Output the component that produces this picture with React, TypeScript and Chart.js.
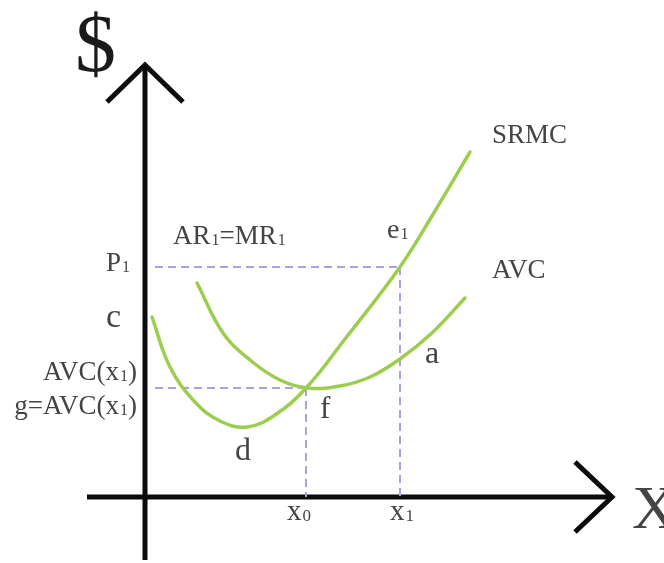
import { useEffect, useRef } from 'react';
import { Chart, registerables } from 'chart.js';

Chart.register(...registerables);

const W = 664;
const H = 563;

// Quantity (q) runs right, price (p) runs up; the axes cross at q = 0, p = 0.
const Q_MIN = -14.5;
const Q_MAX = 51.9;
const P_MIN = -6.6;
const P_MAX = 49.7;

// Short-run marginal cost curve
const srmcQ = [0.7, 2.5, 5.0, 7.5, 10.2, 13.0, 16.1, 20.0, 25.5, 29.0, 32.5];
const srmcP = [18.0, 13.0, 9.5, 7.6, 7.0, 8.2, 10.9, 15.8, 23.0, 28.6, 34.5];

// Average variable cost curve
const avcQ = [5.2, 7.8, 10.5, 13.5, 16.3, 19.5, 22.5, 25.5, 28.8, 32.0];
const avcP = [21.4, 16.4, 13.7, 11.7, 10.9, 11.1, 12.0, 13.8, 16.5, 19.9];

// Key levels
const P1 = 23.0;
const AVC_MIN = 10.9;
const X0 = 16.1;
const X1 = 25.5;
const GUIDE_START = 1.0;

// Axis extents
const Y_AXIS_P = [-6.3, 43.2];
const X_AXIS_Q = [-5.8, 46.7];
const HEAD_HALF = 3.8;
const HEAD_LEN = 3.7;

const GREEN = '#9dcd4f';
const LAVENDER = '#a8a1e2';
const INK = '#0b0b0b';
const TEXT = '#444444';

type Part = [string, boolean];
type Label = { parts: Part[]; q: number; p: number; size: number; align?: 'left' | 'right'; color?: string };

const LABELS: Label[] = [
  { parts: [['$', false]], q: -7.0, p: 42.6, size: 82, color: '#1a1a1a' },
  { parts: [['SRMC', false]], q: 34.7, p: 35.4, size: 27 },
  { parts: [['AVC', false]], q: 34.7, p: 21.9, size: 27 },
  { parts: [['e', false], ['1', true]], q: 24.2, p: 25.9, size: 28 },
  { parts: [['AR', false], ['1', true], ['=MR', false], ['1', true]], q: 2.8, p: 25.3, size: 27 },
  { parts: [['P', false], ['1', true]], q: -3.9, p: 22.6, size: 27 },
  { parts: [['c', false]], q: -3.9, p: 17.0, size: 34 },
  { parts: [['AVC(x', false], ['1', true], [')', false]], q: -0.8, p: 11.7, size: 27, align: 'right' },
  { parts: [['g=AVC(x', false], ['1', true], [')', false]], q: -0.8, p: 8.3, size: 27, align: 'right' },
  { parts: [['d', false]], q: 9.0, p: 3.7, size: 32 },
  { parts: [['f', false]], q: 17.5, p: 7.9, size: 31 },
  { parts: [['a', false]], q: 28.0, p: 13.4, size: 32 },
  { parts: [['x', false], ['0', true]], q: 14.2, p: -2.3, size: 29 },
  { parts: [['x', false], ['1', true]], q: 24.5, p: -2.3, size: 29 },
  { parts: [['X', false]], q: 48.7, p: -3.1, size: 62 },
];

const font = (size: number) => `${size}px "Liberation Serif", "Times New Roman", serif`;

const zip = (qs: number[], ps: number[]) => qs.map((q, i) => ({ x: q, y: ps[i] }));

const labelPlugin = {
  id: 'econLabels',
  afterDatasetsDraw(chart: any) {
    const { ctx } = chart;
    const xs = chart.scales.x;
    const ys = chart.scales.y;
    ctx.save();
    ctx.textAlign = 'left';
    ctx.textBaseline = 'alphabetic';
    for (const lb of LABELS) {
      ctx.fillStyle = lb.color ?? TEXT;
      const px = xs.getPixelForValue(lb.q);
      const py = ys.getPixelForValue(lb.p);
      const subSize = Math.round(lb.size * 0.58);
      const widths = lb.parts.map(([t, sub]) => {
        ctx.font = font(sub ? subSize : lb.size);
        return ctx.measureText(t).width + (sub ? 1 : 0);
      });
      const total = widths.reduce((a, b) => a + b, 0);
      let cx = lb.align === 'right' ? px - total : px;
      lb.parts.forEach(([t, sub], i) => {
        ctx.font = font(sub ? subSize : lb.size);
        ctx.fillText(t, cx + (sub ? 1 : 0), py + (sub ? 1 : 0));
        cx += widths[i];
      });
    }
    ctx.restore();
  },
};

export default function App() {
  const ref = useRef<HTMLCanvasElement | null>(null);

  useEffect(() => {
    if (!ref.current) return;
    const guide = {
      borderColor: LAVENDER,
      borderWidth: 2,
      borderDash: [8, 5],
      pointRadius: 0,
      showLine: true,
      fill: false,
      clip: false as const,
    };
    const curve = {
      borderColor: GREEN,
      borderWidth: 3.5,
      pointRadius: 0,
      showLine: true,
      fill: false,
      tension: 0.4,
      borderCapStyle: 'round' as const,
      clip: false as const,
    };
    const axis = {
      borderColor: INK,
      borderWidth: 5,
      pointRadius: 0,
      showLine: true,
      fill: false,
      borderJoinStyle: 'miter' as const,
      borderCapStyle: 'butt' as const,
      clip: false as const,
    };
    const chart = new Chart(ref.current, {
      type: 'scatter',
      data: {
        datasets: [
          { label: 'SRMC', data: zip(srmcQ, srmcP), ...curve },
          { label: 'AVC', data: zip(avcQ, avcP), ...curve },
          { label: 'P1 level', data: [{ x: GUIDE_START, y: P1 }, { x: X1, y: P1 }], ...guide },
          { label: 'x1 drop', data: [{ x: X1, y: P1 }, { x: X1, y: 0 }], ...guide },
          { label: 'AVC min level', data: [{ x: GUIDE_START, y: AVC_MIN }, { x: X0, y: AVC_MIN }], ...guide },
          { label: 'x0 drop', data: [{ x: X0, y: AVC_MIN }, { x: X0, y: 0 }], ...guide },
          { label: 'price axis', data: [{ x: 0, y: Y_AXIS_P[0] }, { x: 0, y: Y_AXIS_P[1] }], ...axis },
          {
            label: 'price arrow',
            data: [
              { x: -HEAD_HALF, y: Y_AXIS_P[1] - HEAD_LEN },
              { x: 0, y: Y_AXIS_P[1] },
              { x: HEAD_HALF, y: Y_AXIS_P[1] - HEAD_LEN },
            ],
            ...axis,
          },
          { label: 'quantity axis', data: [{ x: X_AXIS_Q[0], y: 0 }, { x: X_AXIS_Q[1], y: 0 }], ...axis },
          {
            label: 'quantity arrow',
            data: [
              { x: X_AXIS_Q[1] - HEAD_LEN, y: 3.5 },
              { x: X_AXIS_Q[1], y: 0 },
              { x: X_AXIS_Q[1] - HEAD_LEN, y: -3.5 },
            ],
            ...axis,
          },
        ],
      },
      options: {
        animation: false,
        responsive: false,
        maintainAspectRatio: false,
        devicePixelRatio: 1,
        layout: { padding: 0 },
        plugins: { legend: { display: false }, tooltip: { enabled: false } },
        events: [],
        scales: {
          x: { type: 'linear', min: Q_MIN, max: Q_MAX, display: false },
          y: { type: 'linear', min: P_MIN, max: P_MAX, display: false },
        },
      },
      plugins: [labelPlugin],
    });
    return () => chart.destroy();
  }, []);

  return (
    <div style={{ position: 'fixed', left: 0, top: 0, width: W, height: H, background: '#ffffff' }}>
      <canvas ref={ref} width={W} height={H} style={{ width: W, height: H, display: 'block' }} />
    </div>
  );
}
